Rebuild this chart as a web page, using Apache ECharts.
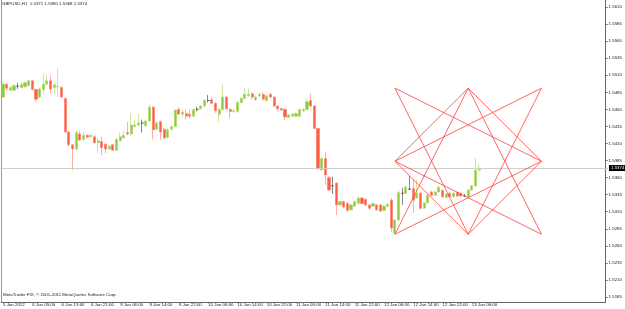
<!DOCTYPE html>
<html>
<head>
<meta charset="utf-8">
<script src="https://cdn.jsdelivr.net/npm/echarts@6/dist/echarts.min.js"></script>
<style>
  html, body { margin: 0; padding: 0; background: #fff; }
  #chart { width: 625px; height: 309px; }
</style>
</head>
<body>
<div id="chart"></div>
<script>
// GBPUSD H1 bars, 5 Jan 2012 21:00 .. 13 Jan 08:00
const opens = [
  1.5478, 1.5497, 1.5488, 1.5488, 1.5494, 1.5492, 1.5493, 1.5495, 1.5502, 1.5489,
  1.5478, 1.5489, 1.5497, 1.5502, 1.5492, 1.5493, 1.5492, 1.5476, 1.5427, 1.5408,
  1.5402, 1.5424, 1.5416, 1.5422, 1.5420, 1.5420, 1.5411, 1.5413, 1.5409, 1.5402,
  1.5408, 1.5400, 1.5414, 1.5418, 1.5426, 1.5424, 1.5435, 1.5437, 1.5440, 1.5436,
  1.5443, 1.5463, 1.5431, 1.5442, 1.5431, 1.5419, 1.5431, 1.5435, 1.5460, 1.5453,
  1.5454, 1.5453, 1.5450, 1.5460, 1.5461, 1.5465, 1.5473, 1.5474, 1.5469, 1.5453,
  1.5460, 1.5478, 1.5460, 1.5457, 1.5457, 1.5470, 1.5476, 1.5480, 1.5483, 1.5474,
  1.5480, 1.5482, 1.5473, 1.5482, 1.5478, 1.5465, 1.5461, 1.5460, 1.5448, 1.5450,
  1.5450, 1.5450, 1.5458, 1.5460, 1.5473, 1.5465, 1.5432, 1.5371, 1.5388, 1.5360,
  1.5348, 1.5352, 1.5320, 1.5325, 1.5322, 1.5313, 1.5318, 1.5322, 1.5330, 1.5328,
  1.5320, 1.5318, 1.5320, 1.5320, 1.5312, 1.5318, 1.5327, 1.5279, 1.5298, 1.5337,
  1.5337, 1.5343, 1.5344, 1.5330, 1.5337, 1.5315, 1.5323, 1.5339, 1.5334, 1.5339,
  1.5341, 1.5331, 1.5337, 1.5332, 1.5338, 1.5337, 1.5333, 1.5332, 1.5342, 1.5348,
  1.5371
]
const closes = [
  1.5497, 1.5491, 1.5492, 1.5495, 1.5494, 1.5497, 1.5499, 1.5502, 1.5489, 1.5475,
  1.5490, 1.5497, 1.5502, 1.5490, 1.5496, 1.5494, 1.5478, 1.5427, 1.5408, 1.5402,
  1.5426, 1.5415, 1.5422, 1.5419, 1.5422, 1.5411, 1.5414, 1.5404, 1.5402, 1.5406,
  1.5400, 1.5416, 1.5420, 1.5422, 1.5424, 1.5437, 1.5437, 1.5440, 1.5440, 1.5443,
  1.5463, 1.5430, 1.5440, 1.5427, 1.5418, 1.5430, 1.5435, 1.5459, 1.5453, 1.5456,
  1.5450, 1.5450, 1.5460, 1.5460, 1.5465, 1.5473, 1.5473, 1.5469, 1.5458, 1.5460,
  1.5478, 1.5461, 1.5457, 1.5458, 1.5470, 1.5476, 1.5482, 1.5482, 1.5478, 1.5478,
  1.5482, 1.5475, 1.5480, 1.5478, 1.5465, 1.5461, 1.5459, 1.5449, 1.5452, 1.5453,
  1.5454, 1.5460, 1.5460, 1.5471, 1.5465, 1.5432, 1.5374, 1.5388, 1.5364, 1.5342,
  1.5348, 1.5320, 1.5325, 1.5317, 1.5312, 1.5320, 1.5325, 1.5330, 1.5322, 1.5320,
  1.5315, 1.5322, 1.5313, 1.5311, 1.5318, 1.5321, 1.5286, 1.5298, 1.5338, 1.5337,
  1.5346, 1.5343, 1.5327, 1.5337, 1.5315, 1.5323, 1.5334, 1.5334, 1.5339, 1.5346,
  1.5332, 1.5336, 1.5332, 1.5337, 1.5333, 1.5333, 1.5333, 1.5342, 1.5348, 1.5371,
  1.5374
]
const lows = [
  1.5477, 1.5487, 1.5487, 1.5487, 1.5490, 1.5491, 1.5492, 1.5494, 1.5488, 1.5471,
  1.5476, 1.5483, 1.5496, 1.5484, 1.5483, 1.5478, 1.5477, 1.5425, 1.5406, 1.5371,
  1.5400, 1.5414, 1.5414, 1.5417, 1.5418, 1.5410, 1.5396, 1.5393, 1.5396, 1.5400,
  1.5399, 1.5399, 1.5413, 1.5417, 1.5422, 1.5421, 1.5433, 1.5436, 1.5426, 1.5434,
  1.5442, 1.5416, 1.5429, 1.5415, 1.5416, 1.5417, 1.5429, 1.5433, 1.5452, 1.5447,
  1.5445, 1.5447, 1.5449, 1.5457, 1.5460, 1.5463, 1.5470, 1.5468, 1.5455, 1.5442,
  1.5458, 1.5460, 1.5447, 1.5455, 1.5455, 1.5469, 1.5475, 1.5478, 1.5474, 1.5472,
  1.5478, 1.5473, 1.5472, 1.5477, 1.5463, 1.5457, 1.5458, 1.5444, 1.5447, 1.5449,
  1.5449, 1.5449, 1.5456, 1.5459, 1.5463, 1.5431, 1.5371, 1.5370, 1.5349, 1.5340,
  1.5336, 1.5305, 1.5318, 1.5315, 1.5310, 1.5311, 1.5317, 1.5321, 1.5321, 1.5318,
  1.5313, 1.5317, 1.5311, 1.5310, 1.5310, 1.5317, 1.5280, 1.5276, 1.5296, 1.5320,
  1.5336, 1.5342, 1.5308, 1.5329, 1.5313, 1.5314, 1.5322, 1.5333, 1.5333, 1.5338,
  1.5330, 1.5330, 1.5331, 1.5331, 1.5332, 1.5332, 1.5332, 1.5331, 1.5340, 1.5346,
  1.5368
]
const highs = [
  1.5500, 1.5499, 1.5494, 1.5497, 1.5499, 1.5499, 1.5501, 1.5504, 1.5503, 1.5491,
  1.5492, 1.5513, 1.5510, 1.5510, 1.5500, 1.5520, 1.5494, 1.5477, 1.5429, 1.5409,
  1.5430, 1.5429, 1.5427, 1.5424, 1.5424, 1.5422, 1.5418, 1.5420, 1.5411, 1.5408,
  1.5409, 1.5418, 1.5427, 1.5429, 1.5442, 1.5454, 1.5444, 1.5453, 1.5445, 1.5445,
  1.5468, 1.5465, 1.5443, 1.5444, 1.5433, 1.5432, 1.5436, 1.5460, 1.5463, 1.5459,
  1.5459, 1.5460, 1.5461, 1.5464, 1.5466, 1.5475, 1.5481, 1.5478, 1.5471, 1.5462,
  1.5496, 1.5480, 1.5462, 1.5460, 1.5472, 1.5478, 1.5492, 1.5491, 1.5485, 1.5480,
  1.5485, 1.5485, 1.5481, 1.5484, 1.5480, 1.5466, 1.5463, 1.5461, 1.5453, 1.5455,
  1.5455, 1.5461, 1.5462, 1.5476, 1.5483, 1.5466, 1.5433, 1.5390, 1.5398, 1.5362,
  1.5361, 1.5353, 1.5326, 1.5326, 1.5324, 1.5321, 1.5326, 1.5332, 1.5332, 1.5330,
  1.5321, 1.5324, 1.5321, 1.5321, 1.5320, 1.5323, 1.5330, 1.5299, 1.5342, 1.5345,
  1.5348, 1.5362, 1.5357, 1.5357, 1.5339, 1.5325, 1.5336, 1.5341, 1.5341, 1.5348,
  1.5343, 1.5337, 1.5339, 1.5339, 1.5340, 1.5338, 1.5336, 1.5343, 1.5349, 1.5389,
  1.5380
]

// one label every 8 bars
const timeLabels = [
  '5 Jan 2012', '6 Jan 05:00', '6 Jan 13:00', '6 Jan 21:00', '9 Jan 06:00',
  '9 Jan 14:00', '9 Jan 22:00', '10 Jan 06:00', '10 Jan 14:00', '10 Jan 22:00',
  '11 Jan 06:00', '11 Jan 14:00', '11 Jan 22:00', '12 Jan 06:00', '12 Jan 14:00',
  '12 Jan 22:00', '13 Jan 06:00'
]
const priceTicks = [
  1.5185, 1.5210, 1.5235, 1.5260, 1.5285, 1.5310, 1.5335, 1.5360, 1.5385,
  1.5410, 1.5435, 1.5460, 1.5485, 1.5510, 1.5535, 1.5560, 1.5585, 1.5610
]
const lastPrice = 1.5374
const slotCount = 165 // bars + empty shift area on the right

// star drawn on the chart: bar index / price of its 8 points
const starPoints = {
  TL: [107, 1.5491], TM: [127, 1.5491], TR: [147, 1.5491],
  ML: [107, 1.5384], MR: [147, 1.5384],
  BL: [107, 1.5277], BM: [127, 1.5277], BR: [147, 1.5277]
}
const starEdges = [
  ['TL', 'MR'], ['TL', 'BM'], ['TM', 'BL'], ['TM', 'BR'],
  ['TR', 'ML'], ['TR', 'BM'], ['ML', 'BR'], ['MR', 'BL'],
  ['TM', 'ML'], ['TM', 'MR'], ['BM', 'ML'], ['BM', 'MR']
]

const FONT = 'Liberation Sans'
const FS = 4.4

const categories = []
for (let i = 0; i < slotCount; i++) categories.push(i)
const ohlc = opens.map((o, i) => [o, closes[i], lows[i], highs[i]])
const showTick = (i) => i % 8 === 0 && i / 8 < timeLabels.length

const chart = echarts.init(document.getElementById('chart'), null, { renderer: 'canvas' })
chart.setOption({
  backgroundColor: '#fff',
  animation: false,
  title: [{
    text: 'GBPUSD,H1  1.5371 1.5380 1.5368 1.5374',
    left: 2,
    top: 2,
    padding: 0,
    textStyle: { fontFamily: FONT, fontSize: FS, fontWeight: 'normal', color: '#222' }
  }, {
    text: 'MetaTrader FIX, © 2001-2011 MetaQuotes Software Corp.',
    left: 3,
    top: 293,
    padding: 0,
    textStyle: { fontFamily: FONT, fontSize: FS, fontWeight: 'normal', color: '#222' }
  }],
  grid: { left: 0, right: 17, top: 0, bottom: 7 },
  xAxis: {
    type: 'category',
    data: categories,
    boundaryGap: true,
    axisLine: { lineStyle: { color: '#666', width: 1 } },
    axisTick: { interval: (i) => showTick(i), alignWithLabel: true, length: 2, lineStyle: { color: '#666' } },
    axisLabel: {
      interval: (i) => showTick(i),
      formatter: (v, i) => timeLabels[i / 8] || '',
      align: 'left',
      margin: 1,
      fontFamily: FONT,
      fontSize: FS,
      color: '#222'
    },
    splitLine: { show: false }
  },
  yAxis: [{
    type: 'value',
    position: 'right',
    min: 1.51777,
    max: 1.56203,
    axisLine: { show: true, lineStyle: { color: '#666', width: 1 } },
    axisTick: { show: true, length: 2, customValues: priceTicks, lineStyle: { color: '#666' } },
    axisLabel: {
      customValues: priceTicks,
      formatter: (v) => v.toFixed(4),
      margin: 3,
      fontFamily: FONT,
      fontSize: FS,
      color: '#222'
    },
    splitLine: { show: false }
  }, {
    type: 'value',
    position: 'left',
    min: 1.51777,
    max: 1.56203,
    axisLine: { show: true, lineStyle: { color: '#999', width: 1 } },
    axisTick: { show: false },
    axisLabel: { show: false },
    splitLine: { show: false }
  }],
  series: [{
    // current price line
    type: 'line',
    data: [],
    yAxisIndex: 0,
    z: 1,
    markLine: {
      silent: true,
      symbol: 'none',
      lineStyle: { color: '#cfcfcf', type: 'solid', width: 1 },
      label: {
        position: 'end',
        distance: 1,
        formatter: lastPrice.toFixed(4),
        backgroundColor: '#000',
        color: '#fff',
        padding: [1, 2, 1, 2],
        fontFamily: FONT,
        fontSize: FS
      },
      data: [[{ coord: [0, lastPrice], x: 0 }, { coord: [slotCount - 1, lastPrice], x: 608 }]]
    }
  }, {
    type: 'candlestick',
    data: ohlc,
    yAxisIndex: 0,
    z: 2,
    barWidth: 2.6,
    itemStyle: {
      color: '#8fc93a',
      color0: '#ff5b45',
      borderColor: '#a8d85c',
      borderColor0: '#ff7a68',
      borderColorDoji: '#333',
      borderWidth: 0.6
    }
  }, {
    type: 'line',
    data: [],
    yAxisIndex: 0,
    z: 5,
    markLine: {
      silent: true,
      symbol: 'none',
      label: { show: false },
      lineStyle: { color: '#ff4040', type: 'solid', width: 0.8 },
      data: starEdges.map(([a, b]) => [{ coord: starPoints[a] }, { coord: starPoints[b] }])
    }
  }]
})
</script>
</body>
</html>
